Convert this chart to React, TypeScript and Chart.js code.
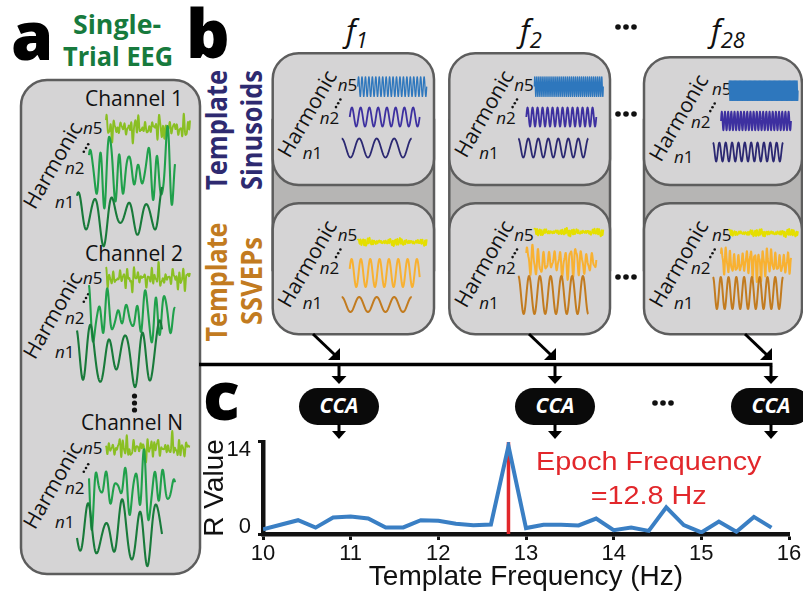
import React, { useEffect, useRef } from 'react';
import { Chart, registerables } from 'chart.js';

Chart.register(...registerables);

// ---------- panel c data ----------
const templateFrequencies = [10.0, 10.2, 10.4, 10.6, 10.8, 11.0, 11.2, 11.4, 11.6, 11.8, 12.0, 12.2, 12.4, 12.6, 12.8, 13.0, 13.2, 13.4, 13.6, 13.8, 14.0, 14.2, 14.4, 14.6, 14.8, 15.0, 15.2, 15.4, 15.6, 15.8];
const rValues = [0.72, 1.4, 2.1, 0.97, 2.5, 2.65, 2.37, 1.0, 1.0, 2.1, 2.0, 1.55, 1.35, 1.45, 13.4, 0.9, 1.4, 1.4, 1.3, 2.35, 0.58, 0.97, 0.48, 4.05, 1.35, 0.24, 1.9, 0.34, 2.6, 0.97];
const epochFrequency = 12.8;
const epochMarkerRange = [0, 14];
const xRange = [10, 16];
const yTickValues = [0, 14];
const epochLabelLines = ['Epoch Frequency', '=12.8 Hz'];
const xAxisTitle = 'Template Frequency (Hz)';
const yAxisTitle = 'R Value';

// ---------- diagram text ----------
const channelNames = ['Channel 1', 'Channel 2', 'Channel N'];
const harmonicNames = ['5', '2', '1'];
const columnSubscripts = ['1', '2', '28'];

const LINE_BLUE = '#3a7fc4';
const EPOCH_RED = '#e2272b';
const BOX_FILL = '#d5d4d5';
const BACK_FILL = '#b6b5b4';
const BORDER = '#5d5d5d';
const INK = '#111111';
const SANS = '"Open Sans", "Noto Sans", sans-serif';
const ARIAL = '"Liberation Sans", Arial, sans-serif';

type Wave = { x0: number; x1: number; cy: number; amp: number; cyc: number; ph?: number; mods?: number[][]; env?: number[]; color: string; w: number };

function wavePath(s: Wave): string {
  const n = Math.max(Math.round((s.x1 - s.x0) * 4), Math.round(s.cyc * 14));
  const parts: string[] = [];
  for (let i = 0; i <= n; i++) {
    const t = i / n;
    let v = Math.sin(2 * Math.PI * s.cyc * t + (s.ph || 0));
    if (s.mods) for (const [f, a, p] of s.mods) v += a * Math.sin(2 * Math.PI * f * t + p);
    const e = s.env ? 1 + s.env[0] * Math.sin(2 * Math.PI * s.env[1] * t + s.env[2]) : 1;
    const x = s.x0 + t * (s.x1 - s.x0);
    const y = s.cy - s.amp * e * v;
    parts.push(`${i ? 'L' : 'M'}${x.toFixed(2)} ${y.toFixed(2)}`);
  }
  return parts.join('');
}

const WavePath = ({ s }: { s: Wave }) => (
  <path d={wavePath(s)} fill="none" stroke={s.color} strokeWidth={s.w} strokeLinejoin="round" />
);

const Dots3 = ({ cx, cy }: { cx: number; cy: number }) => (
  <g fill={INK}>
    <circle cx={cx - 8} cy={cy} r={2.8} />
    <circle cx={cx} cy={cy} r={2.8} />
    <circle cx={cx + 8} cy={cy} r={2.8} />
  </g>
);

const DiagDots = ({ cx, cy }: { cx: number; cy: number }) => (
  <g fill={INK}>
    <circle cx={cx - 2.2} cy={cy + 3.8} r={1.3} />
    <circle cx={cx} cy={cy} r={1.3} />
    <circle cx={cx + 2.2} cy={cy - 3.8} r={1.3} />
  </g>
);

const NLabel = ({ x, y, k }: { x: number; y: number; k: string }) => (
  <text x={x} y={y} fontFamily={SANS} fontSize={17} fill={INK}>
    <tspan fontStyle="italic">n</tspan>{k}
  </text>
);

const Harmonic = ({ cx, cy }: { cx: number; cy: number }) => (
  <text transform={`translate(${cx},${cy}) rotate(-60)`} textAnchor="middle" dominantBaseline="central" fontFamily={SANS} fontSize={21} fill={INK}>Harmonic</text>
);

// ---- column geometry ----
const columns = [
  { L: 272.7, w: 161.3, dy: 0, fx: 346, n5: 20, n2: 8, n1: 4 },
  { L: 449.3, w: 160.7, dy: 0, fx: 520, n5: 34, n2: 14, n1: 7 },
  { L: 644, w: 158, dy: 4, fx: 711, n5: 55, n2: 22, n1: 11 },
];
const ssvep = [
  { n5cy: 242, n2cy: 273, n2amp: 14, n2cyc: 7.5, n1cy: 304.5, n1amp: 7.5, n1cyc: 4 },
  { n5cy: 232, n2cy: 262, n2amp: 10, n2cyc: 13, n1cy: 295, n1amp: 19, n1cyc: 6.5 },
  { n5cy: 233, n2cy: 263, n2amp: 10, n2cyc: 17, n1cy: 293, n1amp: 16, n1cyc: 9 },
];
const channelOffsets = [0, 150, 320];
const channelEeg = [
  { n2amp: 19, n1amp: 17, ph: 0 },
  { n2amp: 14, n1amp: 23, ph: 1.3 },
  { n2amp: 17, n1amp: 23, ph: 2.4 },
];
const pillCenters = [339, 555, 771];
const arrowStarts = [313, 529, 745];

function ColumnBoxes() {
  return (
    <g>
      {columns.map((c, i) => {
        const T = 53.3 + c.dy;
        const T2 = 203.3;
        const s = ssvep[i];
        const waves: Wave[] = [
          { x0: c.L + 85, x1: c.L + 154, cy: T + 33.3, amp: 10, cyc: c.n5, color: '#2e77bd', w: 1.3 },
          { x0: c.L + 77, x1: c.L + 147, cy: T + 63.7, amp: 9.5, cyc: c.n2, color: '#3d30a0', w: 1.8 },
          { x0: c.L + 69, x1: c.L + 139, cy: T + 94.7, amp: 9.5, cyc: c.n1, ph: Math.PI / 2, color: '#2b2872', w: 1.8 },
          { x0: c.L + 85, x1: c.L + 154, cy: s.n5cy, amp: 1.6, cyc: 30, mods: [[13, 0.6, 1], [47, 0.5, 2], [7, 0.4, 0.4]], env: [0.5, 2.2, i], color: '#e5df00', w: 1.9 },
          { x0: c.L + 77, x1: c.L + 147, cy: s.n2cy, amp: s.n2amp, cyc: s.n2cyc, ph: 0.3, mods: i ? [[s.n2cyc * 1.9, 0.35, 1.2], [3.1, 0.2, 0.5]] : [], env: i ? [0.3, 1.7, i] : undefined, color: '#f8b131', w: 2 },
          { x0: c.L + 69, x1: c.L + 139, cy: s.n1cy, amp: s.n1amp, cyc: s.n1cyc, ph: Math.PI / 2, color: '#c27b1f', w: 2 },
        ];
        return (
          <g key={i}>
            <rect x={c.L} y={120} width={c.w} height={150} fill={BACK_FILL} stroke={BORDER} strokeWidth={2.5} />
            <rect x={c.L} y={T} width={c.w} height={131.7 - c.dy} rx={26} fill={BOX_FILL} stroke={BORDER} strokeWidth={2.5} />
            <rect x={c.L} y={T2} width={c.w} height={131} rx={26} fill={BOX_FILL} stroke={BORDER} strokeWidth={2.5} />
            <text x={c.fx} y={42} fontFamily={SANS} fontStyle="italic" fontSize={31} fill={INK}>
              f<tspan fontSize={22} dy={6}>{columnSubscripts[i]}</tspan>
            </text>
            {[T, T2].map((top, r) => (
              <g key={r}>
                <Harmonic cx={c.L + 34} cy={top + 60} />
                <NLabel x={c.L + 65 + (i === 2 ? 3 : 0)} y={top + 37.7} k={harmonicNames[0]} />
                <DiagDots cx={c.L + 65.5 + (i === 2 ? 3 : 0)} cy={top + 50} />
                <NLabel x={c.L + 47} y={top + 70.7} k={harmonicNames[1]} />
                <NLabel x={c.L + 30} y={top + 105.7} k={harmonicNames[2]} />
              </g>
            ))}
            {waves.map((w, k) => <WavePath key={k} s={w} />)}
          </g>
        );
      })}
    </g>
  );
}

function EegPanel() {
  return (
    <g>
      <rect x={21} y={80} width={179} height={494} rx={26} fill={BOX_FILL} stroke={BORDER} strokeWidth={2.5} />
      {channelOffsets.map((o, i) => {
        const e = channelEeg[i];
        const waves: Wave[] = [
          { x0: 106, x1: 190, cy: 128 + o, amp: 4.5, cyc: 24, ph: e.ph, mods: [[11, 0.7, 1.1 + e.ph], [37, 0.5, 0.3], [5, 0.4, 2.0], [17, 0.5, 2.7 + e.ph]], env: [0.45, 3.3, 0.7 + e.ph], color: '#8abf23', w: 1.9 },
          { x0: 89, x1: 175, cy: 172 + o - (i === 2 ? 4 : 0) - (i === 1 ? 6 : 0), amp: e.n2amp, cyc: 9, ph: 0.5 + e.ph, mods: [[4.5, 0.5, 1 + e.ph], [14, 0.3, 2]], env: [0.5, 1.5, -0.5 + e.ph], color: '#20a04b', w: 2.1 },
          { x0: 77, x1: 162, cy: 216 + o - (i === 1 ? 10 : 0) - (i === 2 ? 3 : 0), amp: e.n1amp, cyc: 5, ph: 1.2 + e.ph, mods: [[2.3, 0.35, 0.4], [8, 0.15, 1]], env: [0.3, 1.2, e.ph], color: '#187a3a', w: 2.1 },
        ];
        return (
          <g key={i}>
            <text x={183} y={106 + (i === 1 ? 155 : i === 2 ? 324 : 0)} textAnchor="end" fontFamily={SANS} fontSize={21} fill={INK}>{channelNames[i]}</text>
            <Harmonic cx={52} cy={165 + o} />
            <NLabel x={83} y={134 + o} k={harmonicNames[0]} />
            <DiagDots cx={86} cy={148 + o} />
            <NLabel x={65} y={174 + o} k={harmonicNames[1]} />
            <NLabel x={55} y={208 + o} k={harmonicNames[2]} />
            {waves.map((w, k) => <WavePath key={k} s={w} />)}
          </g>
        );
      })}
      <g fill={INK}>
        <circle cx={134.5} cy={396} r={2.6} />
        <circle cx={134.5} cy={403} r={2.6} />
        <circle cx={134.5} cy={410} r={2.6} />
      </g>
    </g>
  );
}

function Arrows() {
  return (
    <g stroke="#000" fill="#000">
      <line x1={199} y1={364.5} x2={772.5} y2={364.5} strokeWidth={3.5} />
      {pillCenters.map((cx, i) => {
        const sx = arrowStarts[i];
        const tx = cx + 1;
        return (
          <g key={i}>
            <line x1={sx} y1={334} x2={tx - 5} y2={355} strokeWidth={3} />
            <polygon points={`${tx},360 ${tx - 12},360 ${tx},348`} stroke="none" />
            <line x1={cx} y1={366} x2={cx} y2={377} strokeWidth={3} />
            <polygon points={`${cx - 7.5},376 ${cx + 7.5},376 ${cx},384`} stroke="none" />
            <rect x={cx - 40} y={388} width={80} height={37} rx={18.5} stroke="none" fill="#0a0a0a" />
            <text x={cx} y={413} textAnchor="middle" fontFamily={SANS} fontSize={21} fontWeight={700} fontStyle="italic" fill="#fff" stroke="none">CCA</text>
            <line x1={cx} y1={424} x2={cx} y2={432} strokeWidth={3} />
            <polygon points={`${cx - 7},431 ${cx + 7},431 ${cx},439`} stroke="none" />
          </g>
        );
      })}
    </g>
  );
}

function Diagram() {
  return (
    <svg width={803} height={597} style={{ position: 'absolute', left: 0, top: 0 }}>
      <text x={11} y={60} fontFamily={SANS} fontSize={68} fontWeight={800} fill="#000">a</text>
      <text x={186} y={58} fontFamily={SANS} fontSize={68} fontWeight={800} fill="#000">b</text>
      <text x={203} y={420} fontFamily={SANS} fontSize={68} fontWeight={800} fill="#000">c</text>
      <text x={117} y={34} textAnchor="middle" fontFamily={SANS} fontSize={27} fontWeight={700} fill="#177a3d" textLength={88} lengthAdjust="spacingAndGlyphs">Single-</text>
      <text x={118} y={66} textAnchor="middle" fontFamily={SANS} fontSize={27} fontWeight={700} fill="#177a3d" textLength={110} lengthAdjust="spacingAndGlyphs">Trial EEG</text>
      <text transform="translate(227,130) rotate(-90)" textAnchor="middle" fontFamily={SANS} fontSize={28} fontWeight={700} fill="#2e2a70" textLength={120} lengthAdjust="spacingAndGlyphs">Template</text>
      <text transform="translate(262,130) rotate(-90)" textAnchor="middle" fontFamily={SANS} fontSize={28} fontWeight={700} fill="#2e2a70" textLength={120} lengthAdjust="spacingAndGlyphs">Sinusoids</text>
      <text transform="translate(227,282) rotate(-90)" textAnchor="middle" fontFamily={SANS} fontSize={28} fontWeight={700} fill="#c27b20" textLength={119} lengthAdjust="spacingAndGlyphs">Template</text>
      <text transform="translate(262,281) rotate(-90)" textAnchor="middle" fontFamily={SANS} fontSize={28} fontWeight={700} fill="#c27b20" textLength={88} lengthAdjust="spacingAndGlyphs">SSVEPs</text>
      <EegPanel />
      <ColumnBoxes />
      <Dots3 cx={626} cy={27} />
      <Dots3 cx={626} cy={114} />
      <Dots3 cx={626} cy={277} />
      <Dots3 cx={663} cy={403} />
      <Arrows />
    </svg>
  );
}

const epochLabelPlugin = {
  id: 'epochLabel',
  afterDatasetsDraw(chart: any) {
    const { ctx, scales } = chart;
    const x = scales.x, y = scales.y;
    const cx = x.getPixelForValue(14.4);
    ctx.save();
    ctx.fillStyle = EPOCH_RED;
    ctx.font = `25px ${ARIAL}`;
    ctx.textAlign = 'center';
    ctx.textBaseline = 'alphabetic';
    const ys = [y.getPixelForValue(9.7), y.getPixelForValue(4.49)];
    epochLabelLines.forEach((line, i) => {
      ctx.save();
      ctx.translate(cx, ys[i]);
      ctx.scale(1.15, 1);
      ctx.fillText(line, 0, 0);
      ctx.restore();
    });
    ctx.restore();
  },
};

function RChart() {
  const ref = useRef<HTMLCanvasElement>(null);
  useEffect(() => {
    if (!ref.current) return;
    const chart = new Chart(ref.current, {
      type: 'line',
      data: {
        datasets: [
          {
            label: yAxisTitle,
            data: templateFrequencies.map((f, i) => ({ x: f, y: rValues[i] })),
            borderColor: LINE_BLUE,
            borderWidth: 4,
            pointRadius: 0,
            tension: 0,
            order: 1,
          },
          {
            label: 'Epoch Frequency',
            data: epochMarkerRange.map((v) => ({ x: epochFrequency, y: v })),
            borderColor: EPOCH_RED,
            borderWidth: 3.5,
            pointRadius: 0,
            order: 2,
          },
        ],
      },
      options: {
        responsive: false,
        animation: false,
        devicePixelRatio: 1,
        layout: { padding: { top: 17, right: 14, left: 0, bottom: 0 } },
        plugins: { legend: { display: false }, tooltip: { enabled: false } },
        scales: {
          x: {
            type: 'linear',
            min: xRange[0],
            max: xRange[1],
            ticks: { stepSize: 1, color: INK, font: { family: ARIAL, size: 22 }, padding: 1, maxRotation: 0 },
            grid: { display: true, drawOnChartArea: false, drawTicks: true, tickLength: 6, tickWidth: 3, tickColor: INK },
            border: { display: true, color: INK, width: 4.5 },
            title: { display: true, text: xAxisTitle, color: INK, font: { family: ARIAL, size: 28, lineHeight: 1 }, padding: { top: 0, bottom: 6 } },
            afterFit: (s: any) => { s.height = 63; },
          },
          y: {
            type: 'linear',
            min: yTickValues[0],
            max: yTickValues[yTickValues.length - 1],
            afterBuildTicks: (a: any) => { a.ticks = yTickValues.map((v) => ({ value: v })); },
            ticks: {
              color: INK,
              font: { family: ARIAL, size: 22, lineHeight: 0.68 },
              padding: 7,
              callback: (v: any) => (v === yTickValues[yTickValues.length - 1] ? ['', String(v)] : [String(v), '']),
            },
            grid: { display: true, drawOnChartArea: false, drawTicks: true, tickLength: 5, tickWidth: 3, tickColor: INK },
            border: { display: true, color: INK, width: 4.5 },
            title: { display: true, text: yAxisTitle, color: INK, font: { family: ARIAL, size: 28, lineHeight: 1 }, padding: { top: 1, bottom: 0 } },
            afterFit: (s: any) => { s.width = 63; },
          },
        },
      } as any,
      plugins: [epochLabelPlugin],
    });
    return () => chart.destroy();
  }, []);
  return (
    <canvas ref={ref} width={603} height={177} style={{ position: 'absolute', left: 200, top: 420, width: 603, height: 177 }} />
  );
}

export default function App() {
  return (
    <div style={{ position: 'fixed', left: 0, top: 0, width: 803, height: 597, background: '#fff', overflow: 'hidden' }}>
      <Diagram />
      <RChart />
    </div>
  );
}
